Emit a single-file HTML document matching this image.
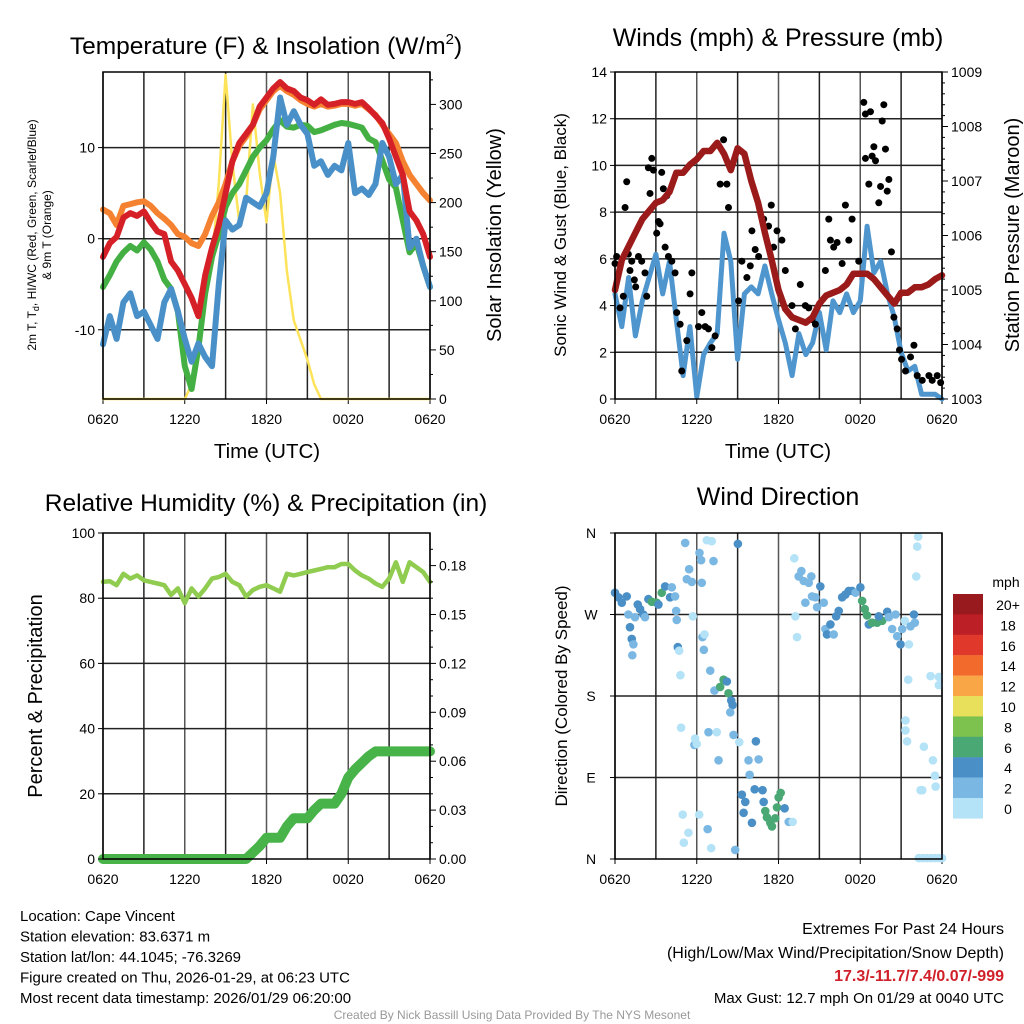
<!DOCTYPE html>
<html><head><meta charset="utf-8">
<style>
html,body{margin:0;padding:0;background:#fff;}
svg{display:block;font-family:"Liberation Sans",sans-serif;}
</style></head>
<body>
<svg id="c" width="1024" height="1024" viewBox="0 0 1024 1024"></svg>
<script>
// ---------- DATA ----------
const hours = []; for (let i = 0; i <= 48; i++) hours.push(i * 0.5);
const xTickLabels = ["0620","1220","1820","0020","0620"];
const tempRed = [-2,-0.5,0.2,2.3,2.8,2.5,3,1.8,0.8,0.5,-2.5,-3.5,-5,-6.5,-8.5,-4,-1,1.5,5,8.5,10.5,11.5,12.5,14.5,15.5,16.5,17.2,16.5,16.2,15.5,15.2,14.7,15.3,14.7,14.8,15,15,14.8,15,14.3,13.5,12.7,11,9,7,3,2,0.5,-2];
const tempOrange = [3.2,2.8,1.5,3.6,3.8,4,4.1,3.6,2.8,2.2,1.5,0.5,0.2,-0.5,-0.8,0.5,2.5,4,6,8.5,10.2,11.2,12.5,14.2,15.2,16.2,16.8,16.2,15.8,15.2,14.8,14.5,14.8,14.5,14.6,14.8,14.8,14.6,14.8,14.2,13.6,12.5,11.5,10.5,8.5,7,6,5,4.2];
const tempGreen = [-5.3,-4,-2.5,-1.5,-0.8,-1.3,-0.4,-1.2,-2.5,-4.5,-5.5,-8,-14,-16.5,-12,-6,-2,0.5,3.5,5,6,7.5,9,10,10.8,12,13,12.3,12.2,12.5,12.4,11.7,11.9,12.2,12.5,12.7,12.6,12.4,12.2,11,10.6,8.6,6.5,5.6,2,-1.5,-0.5,-3,-5.3];
const tempBlue = [-11.6,-8.5,-11,-7,-6,-8.5,-8,-9.5,-11,-7,-5.5,-8,-11,-13.5,-11.5,-13,-14,-5,2,1,1.5,4.5,4,3.5,5,9,15.5,12.5,14,12.5,11.5,8,8.5,7,8,7.5,10.5,5,5.5,4.8,6,10.5,9,6,7,-1,0,-3,-5.3];
const solar = [0,0,0,0,0,0,0,0,0,0,0,0,0,15,50,100,140,220,330,240,180,200,300,230,180,250,210,130,80,60,40,15,0,0,0,0,0,0,0,0,0,0,0,0,0,0,0,0,0];
const wind = [4.5,3.1,5.2,2.7,4.2,5.2,6.2,4.5,5.9,3.4,1.0,3.1,0.1,1.9,2.4,2.8,7.1,5.9,1.7,4.5,4.8,4.5,5.7,4.5,3.4,2.4,1.0,2.8,1.9,2.4,3.7,2.1,4.2,3.7,4.5,3.7,4.2,7.4,5.4,5.9,4.5,3.5,2.0,1.2,1.4,0.2,0.2,0.2,0.0];
const pressure = [1005.0,1005.55,1005.8,1006.05,1006.3,1006.45,1006.6,1006.65,1006.8,1007.15,1007.15,1007.3,1007.4,1007.55,1007.55,1007.7,1007.5,1007.2,1007.6,1007.5,1007.0,1006.6,1006.05,1005.55,1005.0,1004.65,1004.5,1004.45,1004.4,1004.5,1004.75,1004.9,1004.95,1005.0,1005.1,1005.3,1005.3,1005.3,1005.2,1005.05,1004.9,1004.75,1004.95,1004.95,1005.05,1005.05,1005.1,1005.2,1005.27];
const gustHours = [0,0.12,0.37,0.61,0.74,0.86,0.98,1.1,1.23,1.42,1.52,1.72,1.96,2.2,2.33,2.45,2.57,2.7,2.82,3.06,3.19,3.31,3.43,3.55,3.68,3.8,3.92,4.17,4.41,4.53,4.78,4.9,5.27,5.51,5.64,6.13,6.37,6.62,6.86,7.11,7.35,7.72,7.97,8.21,8.33,9.07,9.31,9.68,9.93,10.05,10.29,10.54,10.91,11.27,11.47,11.64,11.89,12.25,12.5,12.99,13.24,13.6,13.97,14.22,14.46,14.71,15.44,15.69,15.81,16.05,16.3,16.67,16.91,17.16,17.4,17.89,18.26,18.38,18.75,18.38,18.63,18.87,19.0,19.12,19.36,19.49,19.61,19.73,19.85,19.98,20.1,20.29,20.47,20.71,20.88,21.03,21.32,21.69,21.94,22.18,22.55,23.04,23.28,23.65,23.9];
const gustMph = [5.8,6.1,3.9,4.4,8.2,9.3,6.2,5.5,5.9,5.1,4.8,6.1,5.9,5.4,4.4,9.9,8.8,10.3,9.8,7.1,7.6,7.5,9.7,9.0,6.5,8.7,6.1,5.9,5.4,3.7,3.2,1.2,2.5,4.5,5.4,3.1,3.7,3.1,3.0,2.2,2.7,9.2,11.1,9.2,8.2,4.2,5.9,5.2,5.7,7.2,6.4,6.1,7.7,7.4,8.3,6.5,7.2,6.8,5.5,4.0,3.0,4.9,4.0,3.9,3.4,3.2,5.5,7.7,6.8,6.5,6.7,5.8,8.3,6.8,7.7,5.9,12.7,12.2,12.3,10.3,9.2,10.4,10.8,10.2,8.4,9.1,11.9,12.6,10.7,8.9,9.4,6.3,3.5,3.0,2.1,1.7,1.2,1.8,2.3,1.0,0.8,1.0,0.8,1.0,0.7];
const rh = [85,85.2,84,87.5,86,87,85.5,85,84.5,84,81,83,78.5,83,80.5,83,86,86.5,87.5,85,84,80.5,82.5,83.5,84,83,82,87.5,87,87.5,88,88.5,89,89.5,89.5,90.5,90.5,88.5,87,86,84.5,83.5,86,91,85,91,89.5,88,85];
const precip = [0,0,0,0,0,0,0,0,0,0,0,0,0,0,0,0,0,0,0,0,0,0,0.004,0.008,0.013,0.013,0.013,0.02,0.025,0.025,0.025,0.03,0.034,0.034,0.034,0.04,0.05,0.055,0.059,0.063,0.066,0.066,0.066,0.066,0.066,0.066,0.066,0.066,0.066];
const dirHours = [0,0.25,0.5,0.86,0.98,1.1,1.23,1.35,1.27,1.47,1.67,1.84,2.08,2.2,2.45,2.7,3.06,3.19,3.43,3.68,4.04,4.17,4.41,4.49,4.53,4.61,4.71,4.8,4.85,4.97,5.05,5.39,5.15,5.27,5.44,5.64,5.83,5.88,6.0,6.18,6.2,6.32,6.37,5.71,6.42,6.57,6.52,6.8,6.99,7.06,6.74,7.1,7.23,6.86,7.47,7.6,7.3,7.72,7.97,8.21,8.33,8.53,8.63,8.46,8.7,8.82,9.02,9.12,9.31,9.56,9.44,9.8,9.88,10.05,10.25,10.34,10.54,10.83,10.91,11.03,11.15,11.4,11.52,11.76,11.89,12.01,12.16,12.45,12.75,13.04,13.16,13.24,13.36,13.48,13.68,13.85,13.97,14.22,14.41,14.46,14.71,14.83,15.07,15.32,15.44,15.56,15.81,16.05,16.23,16.42,16.67,16.91,17.16,17.4,17.65,18.01,18.14,18.33,18.5,18.63,18.87,19.24,19.61,19.36,19.98,20.1,20.34,20.59,20.71,20.96,21.08,21.27,21.57,21.69,21.94,22.01,21.52,21.32,21.32,21.44,22.11,22.18,22.25,22.43,22.55,22.67,23.16,23.33,23.48,23.53,23.77,23.77,22.3,22.6,22.9,23.2,23.5,23.8,24];
const dirDeg = [294,289,283,290,270,256,243,237,225,267,281,276,270,267,287,284,283,281,294,301,289,300,290,274,264,234,230,203,145,49,18,29,349,309,320,306,126,133,127,49,338,330,305,268,245,248,231,33,208,12,352,351,329,140,140,109,186,190,198,196,183,175,170,162,137,10,348,129,71,63,51,109,93,40,77,130,110,76,63,53,46,40,36,45,57,68,73,56,41,41,332,268,245,312,318,307,283,305,312,290,289,278,301,283,254,248,259,248,268,274,289,292,296,296,294,300,285,276,269,259,261,261,263,268,273,267,254,270,246,237,254,263,237,257,270,261,198,153,142,130,312,345,356,76,76,124,202,109,92,80,201,192,1,1,1,1,1,1,1];
const dirSpeed = [5,5,4,5,3,5,5,3,3,3,4,4,4,3,5,7,7,5,7,5,5,3,3,3,3,4,1,1,1,1,1,1,3,3,3,3,3,1,1,1,3,3,3,1,3,1,3,3,3,1,1,1,3,3,1,3,3,7,7,5,7,5,5,3,3,3,5,1,5,5,5,3,3,5,5,5,3,5,5,7,7,7,7,7,7,7,7,5,3,1,1,1,1,3,3,3,3,3,3,3,3,3,5,3,3,5,5,3,5,5,5,5,5,5,3,5,7,7,7,5,7,7,7,5,5,3,3,3,3,5,3,1,1,3,5,3,1,1,1,1,1,1,1,1,1,1,1,1,1,1,1,1,0,0,0,0,0,0,0];
const cbLabels = ["20+","18","16","14","12","10","8","6","4","2","0"];
const cbColors = ["#981a1e","#bd1f26","#e0382b","#f26a2c","#f8a646","#e8e05a","#7dc24f","#4aa874","#4a8fc6","#7ab8e3","#b4e2f7"];

// ---------- DRAW ----------
const NS = "http://www.w3.org/2000/svg";
const svg = document.getElementById('c');
function mk(tag, attrs, parent, text) {
  const e = document.createElementNS(NS, tag);
  for (const k in attrs) e.setAttribute(k, attrs[k]);
  if (text !== undefined) e.textContent = text;
  (parent || svg).appendChild(e);
  return e;
}
function panel(x0, y0, w, h, name) {
  const g = mk('g', {});
  
  
  return {g, x0, y0, w, h, sx: t => x0 + t / 24 * w};
}
function lin(d0, d1, p0, p1) { return v => p0 + (v - d0) / (d1 - d0) * (p1 - p0); }
function vgrid(P) {
  for (let i = 0; i <= 8; i++) {
    const x = P.sx(i * 3);
    const l = mk('line', {x1: x, y1: P.y0, x2: x, y2: P.y0 + P.h, stroke: i % 2 ? '#222' : '#555', 'stroke-width': 1.5}, P.g);
    
    
  }
  xTickLabels.forEach((lab, i) => {
    const x = P.sx(i * 6);
    mk('line', {x1: x, y1: P.y0 + P.h, x2: x, y2: P.y0 + P.h + 5, stroke: '#000'}, P.g);
    const t = mk('text', {x: x, y: P.y0 + P.h + 25, 'font-size': 14, 'text-anchor': 'middle'}, P.g, lab);
    
    
  });
}
function hline(P, y, col) {
  const l = mk('line', {x1: P.x0, y1: y, x2: P.x0 + P.w, y2: y, stroke: col || '#222', 'stroke-width': 1.5}, P.g);
  
  
}
function frame(P) {
  const r = mk('rect', {x: P.x0, y: P.y0, width: P.w, height: P.h, fill: 'none', stroke: '#000', 'stroke-width': 1.5}, P.g);
  
  
}
function leftTicks(P, vals, labs, sy, xoff) {
  vals.forEach((v, i) => {
    const y = sy(v);
    mk('line', {x1: P.x0 - 5, y1: y, x2: P.x0, y2: y, stroke: '#000'}, P.g);
    const t = mk('text', {x: P.x0 - (xoff || 8), y: y + 5, 'font-size': 14, 'text-anchor': 'end'}, P.g, labs[i]);
    
    
  });
}
function rightTicks(P, vals, labs, sy, minor) {
  const xr = P.x0 + P.w;
  vals.forEach((v, i) => {
    const y = sy(v);
    mk('line', {x1: xr, y1: y, x2: xr + 6, y2: y, stroke: '#000'}, P.g);
    const t = mk('text', {x: xr + 9, y: y + 5, 'font-size': 14, 'text-anchor': 'start'}, P.g, labs[i]);
    
    
  });
  (minor || []).forEach(v => { const y = sy(v); mk('line', {x1: xr, y1: y, x2: xr + 3, y2: y, stroke: '#000'}, P.g); });
}
function path(P, xs, ys, sy, col, w, name) {
  let d = '';
  xs.forEach((t, i) => { d += (i ? 'L' : 'M') + P.sx(t).toFixed(1) + ',' + sy(ys[i]).toFixed(1); });
  const p = mk('path', {d, fill: 'none', stroke: col, 'stroke-width': w, 'stroke-linejoin': 'round', 'stroke-linecap': 'round'}, P.g);
  
  
}
function txt(x, y, s, size, attrs, name) {
  const a = Object.assign({x, y, 'font-size': size}, attrs || {});
  const t = mk('text', a, svg, s);
  
  
  return t;
}

// Panel 1
const P1 = panel(103, 72, 327, 327, 'temperature-panel');
const sT = lin(-17.6, 18.3, 399, 72);
const sS = lin(0, 333, 399, 72);
vgrid(P1);
[-10, 0, 10].forEach(v => hline(P1, sT(v)));
path(P1, hours, solar, sS, '#fde35a', 2.5, 'solar-line');
path(P1, hours, tempOrange, sT, '#f58231', 6, 'orange-9m-temp-line');
path(P1, hours, tempGreen, sT, '#44b044', 6, 'green-dewpoint-line');
path(P1, hours, tempBlue, sT, '#4a90c8', 6, 'blue-windchill-line');
path(P1, hours, tempRed, sT, '#d62028', 6, 'red-2m-temp-line');
frame(P1);
leftTicks(P1, [-10, 0, 10], ['-10', '0', '10'], sT);
rightTicks(P1, [0, 50, 100, 150, 200, 250, 300], ['0', '50', '100', '150', '200', '250', '300'], sS, [25, 75, 125, 175, 225, 275, 325]);

// Panel 2
const P2 = panel(615, 72, 327, 327, 'winds-panel');
const sW = lin(0, 14, 399, 72);
const sP = lin(1003, 1009, 399, 72);
vgrid(P2);
[2, 4, 6, 8, 10, 12].forEach(v => hline(P2, sW(v)));
path(P2, hours, wind, sW, '#4f96cf', 5, 'sonic-wind-line');
gustHours.forEach((t, i) => {
  const c = mk('circle', {cx: P2.sx(t), cy: sW(gustMph[i]), r: 3.5, fill: '#000'}, P2.g);
  
  
});
path(P2, hours, pressure, sP, '#9b1b1b', 6.5, 'pressure-line');
frame(P2);
leftTicks(P2, [0, 2, 4, 6, 8, 10, 12, 14], ['0', '2', '4', '6', '8', '10', '12', '14'], sW);
const pm = []; for (let v = 1003.2; v < 1009; v += 0.2) pm.push(v);
rightTicks(P2, [1003, 1004, 1005, 1006, 1007, 1008, 1009], ['1003', '1004', '1005', '1006', '1007', '1008', '1009'], sP, pm);

// Panel 3
const P3 = panel(103, 533, 327, 326, 'humidity-panel');
const sR = lin(0, 100, 859, 533);
const sQ = lin(0, 0.2, 859, 533);
vgrid(P3);
[20, 40, 60, 80].forEach(v => hline(P3, sR(v)));
path(P3, hours, rh, sR, '#8fcc4f', 4.5, 'rh-line');
path(P3, hours, precip, sQ, '#48b348', 10, 'precip-line');
frame(P3);
leftTicks(P3, [0, 20, 40, 60, 80, 100], ['0', '20', '40', '60', '80', '100'], sR);
rightTicks(P3, [0, 0.03, 0.06, 0.09, 0.12, 0.15, 0.18], ['0.00', '0.03', '0.06', '0.09', '0.12', '0.15', '0.18'], sQ, [0.01, 0.02, 0.04, 0.05, 0.07, 0.08, 0.1, 0.11, 0.13, 0.14, 0.16, 0.17, 0.19]);

// Panel 4
const P4 = panel(615, 533, 327, 326, 'wind-direction-panel');
const sD = lin(0, 360, 859, 533);
vgrid(P4);
[90, 180, 270].forEach(v => hline(P4, sD(v)));
dirHours.forEach((t, i) => {
  const k = Math.min(10, Math.floor(dirSpeed[i] / 2));
  const c = mk('circle', {cx: P4.sx(t), cy: sD(dirDeg[i]), r: 4.3, fill: cbColors[10 - k]}, P4.g);
  
  
});
frame(P4);
[[0, 'N'], [90, 'E'], [180, 'S'], [270, 'W'], [360, 'N']].forEach(([v, l]) => {
  const y = sD(v);
  mk('line', {x1: P4.x0 - 5, y1: y, x2: P4.x0, y2: y, stroke: '#000'}, P4.g);
  const t = mk('text', {x: 591, y: y + 5, 'font-size': 14, 'text-anchor': 'middle'}, P4.g, l);
  
  
});
// colorbar
const cb = mk('g', {});


cbColors.forEach((c, i) => {
  mk('rect', {x: 953, y: 594 + i * 20.4, width: 30, height: 20.6, fill: c}, cb);
  const t = mk('text', {x: 1008, y: 610 + i * 20.4, 'font-size': 14, 'text-anchor': 'middle'}, cb, cbLabels[i]);
  
  
});
txt(1006, 587, 'mph', 14, {'text-anchor': 'middle'}, 'colorbar-title');

// Titles
const t1 = txt(266, 54, 'Temperature (F) & Insolation (W/m', 24.5, {'text-anchor': 'middle'}, 'temperature-title');
mk('tspan', {'font-size': 15, dy: -10}, t1, '2'); mk('tspan', {dy: 10}, t1, ')');
txt(778, 46, 'Winds (mph) & Pressure (mb)', 25, {'text-anchor': 'middle'}, 'winds-title');
txt(266, 511, 'Relative Humidity (%) & Precipitation (in)', 24.5, {'text-anchor': 'middle'}, 'humidity-title');
txt(778, 505, 'Wind Direction', 25, {'text-anchor': 'middle'}, 'wind-direction-title');
txt(267, 458, 'Time (UTC)', 20.5, {'text-anchor': 'middle'}, 'x-axis-title-temp');
txt(778, 458, 'Time (UTC)', 20.5, {'text-anchor': 'middle'}, 'x-axis-title-winds');

// Y axis titles
const ya = txt(0, 0, '', 12, {'text-anchor': 'middle', transform: 'translate(36,235) rotate(-90)'}, 'temperature-y-title');
mk('tspan', {}, ya, '2m T, T'); mk('tspan', {'font-size': 9, dy: 3}, ya, 'd'); mk('tspan', {dy: -3}, ya, ',  HI/WC (Red, Green, Scarlet/Blue)');
txt(0, 0, '& 9m T (Orange)', 12, {'text-anchor': 'middle', transform: 'translate(51,235) rotate(-90)'}, 'temperature-y-title-2');
txt(0, 0, 'Solar Insolation (Yellow)', 20, {'text-anchor': 'middle', transform: 'translate(501,235) rotate(-90)'}, 'solar-y-title');
txt(0, 0, 'Sonic Wind & Gust (Blue, Black)', 17, {'text-anchor': 'middle', transform: 'translate(566,235) rotate(-90)'}, 'wind-y-title');
txt(0, 0, 'Station Pressure (Maroon)', 20, {'text-anchor': 'middle', transform: 'translate(1019,235) rotate(-90)'}, 'pressure-y-title');
txt(0, 0, 'Percent & Precipitation', 20, {'text-anchor': 'middle', transform: 'translate(42,696) rotate(-90)'}, 'humidity-y-title');
txt(0, 0, 'Direction (Colored By Speed)', 17, {'text-anchor': 'middle', transform: 'translate(567,696) rotate(-90)'}, 'direction-y-title');

// Info text
const info = ['Location: Cape Vincent', 'Station elevation: 83.6371 m', 'Station lat/lon: 44.1045; -76.3269', 'Figure created on Thu, 2026-01-29, at 06:23 UTC', 'Most recent data timestamp: 2026/01/29 06:20:00'];
info.forEach((s, i) => txt(20, 921 + i * 20.5, s, 15, {}, 'station-info-line'));
txt(1004, 934, 'Extremes For Past 24 Hours', 16, {'text-anchor': 'end'}, 'extremes-title');
txt(1004, 958, '(High/Low/Max Wind/Precipitation/Snow Depth)', 16, {'text-anchor': 'end'}, 'extremes-subtitle');
txt(1004, 981, '17.3/-11.7/7.4/0.07/-999', 16, {'text-anchor': 'end', fill: '#d0202a', 'font-weight': 'bold'}, 'extremes-values');
txt(1004, 1003, 'Max Gust: 12.7 mph On 01/29 at 0040 UTC', 15, {'text-anchor': 'end'}, 'max-gust');
txt(512, 1019, 'Created By Nick Bassill Using Data Provided By The NYS Mesonet', 12, {'text-anchor': 'middle', fill: '#999'}, 'credit-footer');
</script>
</body></html>
